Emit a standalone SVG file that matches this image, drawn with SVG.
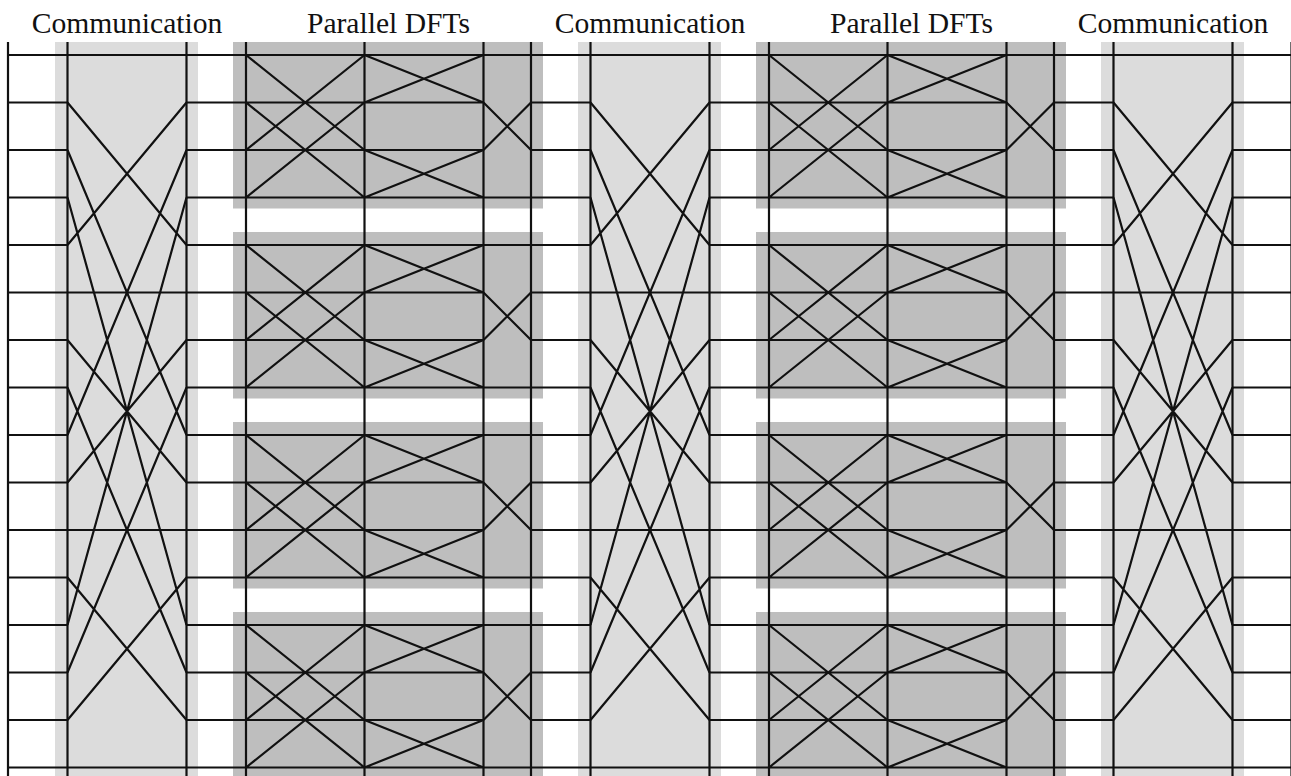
<svg xmlns="http://www.w3.org/2000/svg" xmlns:xlink="http://www.w3.org/1999/xlink" width="1291" height="776" viewBox="0 0 1291 776">
  <style>
    .label { font-family: "Liberation Serif", "Times New Roman", serif; font-size: 29.6px; fill: #111; text-anchor: middle; }
    .comm { fill: #dcdcdc; }
    .dft { fill: #bebebe; }
    .wire { fill: none; stroke: #111; stroke-width: 2.2; stroke-linecap: butt; stroke-linejoin: miter; }
  </style>
  <defs>
    <!-- 16-point transpose (4x4): input row 4a+b goes to output row 4b+a; local origin = top-left rail point -->
    <g id="transpose">
      <rect class="comm" x="-12.5" y="-13" width="143" height="734"/>
      <path class="wire" d="M0 0H119 M0 47.5L119 190 M0 95L119 380 M0 142.5L119 570 M0 190L119 47.5 M0 237.5H119 M0 285L119 427.5 M0 332.5L119 617.5 M0 380L119 95 M0 427.5L119 285 M0 475H119 M0 522.5L119 665 M0 570L119 142.5 M0 617.5L119 332.5 M0 665L119 522.5 M0 712.5H119"/>
      <path class="wire" d="M0 -13V721 M119 -13V721"/>
    </g>
    <!-- 4-point DFT: two radix-2 butterfly stages followed by the bit-reversal swap -->
    <g id="dft4">
      <rect class="dft" x="-13" y="-13" width="310" height="166.5"/>
      <path class="wire" d="M0 0H285 M0 47.5H237.5 M0 95H237.5 M0 142.5H285 M0 0L118.5 95 M0 95L118.5 0 M0 47.5L118.5 142.5 M0 142.5L118.5 47.5 M118.5 0L237.5 47.5 M118.5 47.5L237.5 0 M118.5 95L237.5 142.5 M118.5 142.5L237.5 95 M237.5 47.5L285 95 M237.5 95L285 47.5"/>
    </g>
    <!-- rails of one DFT column, spanning the full height -->
    <path id="dft-rails" class="wire" d="M0 -13V721 M118.5 -13V721 M237.5 -13V721 M285 -13V721"/>
    <!-- straight wire segments of one row between the stages -->
    <path id="row-links" class="wire" d="M8 0H67.5 M186.5 0H246 M531 0H590.5 M709.5 0H769 M1054 0H1113.5 M1232.5 0H1291.5"/>
  </defs>

  <g id="labels">
    <text class="label" x="127" y="33">Communication</text>
    <text class="label" x="388.5" y="33">Parallel DFTs</text>
    <text class="label" x="650" y="33">Communication</text>
    <text class="label" x="911.5" y="33">Parallel DFTs</text>
    <text class="label" x="1173" y="33">Communication</text>
  </g>

  <g id="comm-1"><use xlink:href="#transpose" href="#transpose" x="67.5" y="55"/></g>

  <g id="dfts-1">
    <g id="dft-1a"><use xlink:href="#dft4" href="#dft4" x="246" y="55"/></g>
    <g id="dft-1b"><use xlink:href="#dft4" href="#dft4" x="246" y="245"/></g>
    <g id="dft-1c"><use xlink:href="#dft4" href="#dft4" x="246" y="435"/></g>
    <g id="dft-1d"><use xlink:href="#dft4" href="#dft4" x="246" y="625"/></g>
    <use xlink:href="#dft-rails" href="#dft-rails" x="246" y="55"/>
  </g>

  <g id="comm-2"><use xlink:href="#transpose" href="#transpose" x="590.5" y="55"/></g>

  <g id="dfts-2">
    <g id="dft-2a"><use xlink:href="#dft4" href="#dft4" x="769" y="55"/></g>
    <g id="dft-2b"><use xlink:href="#dft4" href="#dft4" x="769" y="245"/></g>
    <g id="dft-2c"><use xlink:href="#dft4" href="#dft4" x="769" y="435"/></g>
    <g id="dft-2d"><use xlink:href="#dft4" href="#dft4" x="769" y="625"/></g>
    <use xlink:href="#dft-rails" href="#dft-rails" x="769" y="55"/>
  </g>

  <g id="comm-3"><use xlink:href="#transpose" href="#transpose" x="1113.5" y="55"/></g>

  <!-- straight wires between stages, plus the input and output rails -->
  <g id="wires">
    <use xlink:href="#row-links" href="#row-links" y="55"/>
    <use xlink:href="#row-links" href="#row-links" y="102.5"/>
    <use xlink:href="#row-links" href="#row-links" y="150"/>
    <use xlink:href="#row-links" href="#row-links" y="197.5"/>
    <use xlink:href="#row-links" href="#row-links" y="245"/>
    <use xlink:href="#row-links" href="#row-links" y="292.5"/>
    <use xlink:href="#row-links" href="#row-links" y="340"/>
    <use xlink:href="#row-links" href="#row-links" y="387.5"/>
    <use xlink:href="#row-links" href="#row-links" y="435"/>
    <use xlink:href="#row-links" href="#row-links" y="482.5"/>
    <use xlink:href="#row-links" href="#row-links" y="530"/>
    <use xlink:href="#row-links" href="#row-links" y="577.5"/>
    <use xlink:href="#row-links" href="#row-links" y="625"/>
    <use xlink:href="#row-links" href="#row-links" y="672.5"/>
    <use xlink:href="#row-links" href="#row-links" y="720"/>
    <use xlink:href="#row-links" href="#row-links" y="767.5"/>
    <path class="wire" d="M8 42V776 M1291.5 42V776"/>
  </g>
</svg>
